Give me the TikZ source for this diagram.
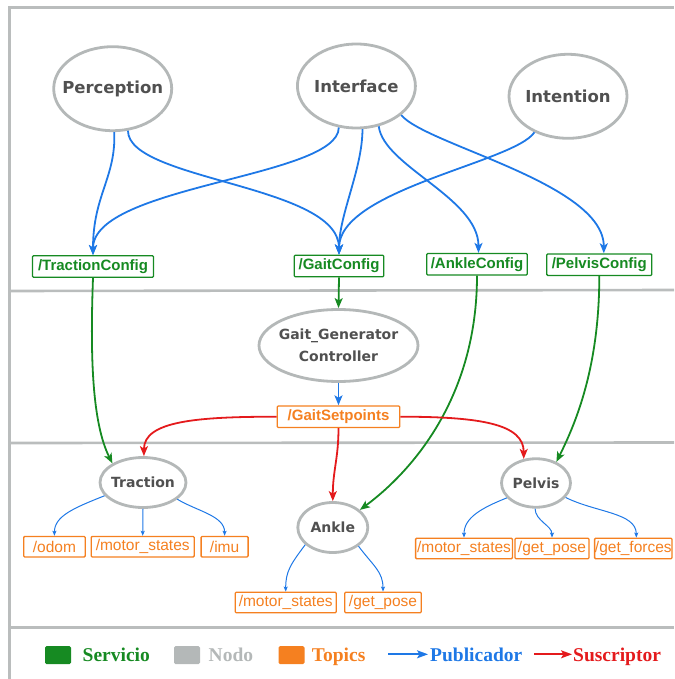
\documentclass[tikz,border=0pt]{standalone}
\usepackage{fontspec}
\usetikzlibrary{shapes.geometric,arrows.meta}
\newfontfamily\nodefont{DejaVu Sans}
\newfontfamily\topicfont{Liberation Sans}
\newfontfamily\legendfont{Liberation Serif}

\definecolor{cgreen}{HTML}{168A22}
\definecolor{cgray}{HTML}{B4B8B8}
\definecolor{cframe}{HTML}{BABDBD}
\definecolor{corange}{HTML}{F58020}
\definecolor{cblue}{HTML}{1E78E6}
\definecolor{cred}{HTML}{E41A1C}
\definecolor{ctext}{HTML}{505050}

\tikzset{
  rosnode/.style={ellipse, draw=cgray, line width=2.8pt, fill=white,
    inner xsep=-20pt, inner ysep=0pt, text=ctext, align=center},
  bignode/.style={rosnode, font=\nodefont\bfseries\fontsize{16.5}{19}\selectfont},
  smallnode/.style={rosnode, font=\nodefont\bfseries\fontsize{14}{18}\selectfont},
  service/.style={rectangle, draw=cgreen, line width=1.3pt, fill=white,
    rounded corners=1pt, inner sep=0pt, minimum height=21.5pt, text=cgreen,
    font=\topicfont\bfseries\fontsize{15}{18}\selectfont},
  topic/.style={rectangle, draw=corange, line width=1.3pt, fill=white,
    rounded corners=1pt, inner sep=0pt, minimum height=20.5pt, text=corange,
    font=\topicfont\fontsize{15.5}{18}\selectfont},
  maintopic/.style={topic, minimum height=21.5pt,
    font=\topicfont\bfseries\fontsize{15}{18}\selectfont},
  pub/.style={draw=cblue, line width=1.8pt,
    -{Stealth[length=10pt,width=8pt,inset=2.5pt]}},
  sub/.style={draw=cred, line width=1.8pt,
    -{Stealth[length=10pt,width=8pt,inset=2.5pt]}},
  srv/.style={draw=cgreen, line width=1.8pt,
    -{Stealth[length=10pt,width=8pt,inset=2.5pt]}},
  minipub/.style={draw=cblue, line width=1pt,
    -{Stealth[length=5pt,width=4pt,inset=1pt]}},
  legendarrow/.style={line width=1.8pt,
    -{Stealth[length=11pt,width=8pt,inset=2.5pt]}},
  frame/.style={draw=cframe, line width=2.6pt},
  legendbox/.style={rectangle, rounded corners=1.5pt, minimum width=26pt,
    minimum height=18pt, inner sep=0pt},
  legendtext/.style={anchor=base west, inner sep=0pt,
    font=\legendfont\bfseries\fontsize{19.5}{22}\selectfont},
}

\begin{document}
\begin{tikzpicture}[x=1pt, y=-1pt]
\useasboundingbox (0,0) rectangle (674,679);

% panel frame and separators
\draw[frame] (9.5,679) -- (9.5,7.5) -- (674,7.5);
\draw[frame] (9.5,291) -- (674,290);
\draw[frame] (9.5,443) -- (674,442.5);
\draw[frame] (9.5,627.5) -- (674,627.5);

% top-level nodes
\node[bignode, minimum width=118pt, minimum height=84pt] (perc) at (112.7,88.7) {Perception};
\node[bignode, minimum width=118pt, minimum height=84pt] (intf) at (356.4,86) {Interface};
\node[bignode, minimum width=118pt, minimum height=84pt] (intn) at (568,96.3) {Intention};

% configuration services
\node[service, minimum width=121pt] (tc) at (93,266.5) {/TractionConfig};
\node[service, minimum width=89.5pt] (gc) at (339,266) {/GaitConfig};
\node[service, minimum width=100.5pt] (ac) at (477,264.3) {/AnkleConfig};
\node[service, minimum width=105pt] (pc) at (599.3,264.7) {/PelvisConfig};

% gait generator and its setpoints
\node[smallnode, minimum width=159pt, minimum height=72pt] (gg) at (338.5,345.5)
  {Gait\_Generator\\[4pt]Controller};
\node[maintopic, minimum width=122.5pt] (gsp) at (338.5,416.7) {/GaitSetpoints};

% low-level controllers
\node[smallnode, minimum width=86pt, minimum height=50pt] (trac) at (143,482.5) {Traction};
\node[smallnode, minimum width=70pt, minimum height=50pt] (ank) at (332.8,527.5) {Ankle};
\node[smallnode, minimum width=69pt, minimum height=48.5pt] (pel) at (536,483) {Pelvis};

% published topics
\node[topic, minimum width=61.5pt] (odom) at (54.4,546.7) {/odom};
\node[topic, minimum width=103pt] (ms1) at (142.7,546.7) {/motor\_states};
\node[topic, minimum width=47pt] (imu) at (224.6,546.7) {/imu};
\node[topic, minimum width=101pt] (ms2) at (285.7,602.5) {/motor\_states};
\node[topic, minimum width=76.5pt] (gp2) at (383,602.5) {/get\_pose};
\node[topic, minimum width=96.8pt] (ms3) at (464,548.5) {/motor\_states};
\node[topic, minimum width=74pt] (gp3) at (552,548.5) {/get\_pose};
\node[topic, minimum width=77.4pt] (gf3) at (633.3,548.5) {/get\_forces};

% publishers to configuration services
\draw[pub] (perc.-88) .. controls +(2,45) and +(0,-60) .. (tc.north);
\draw[pub] (perc.-70) .. controls +(0,50) and +(0,-70) .. (gc.north);
\draw[pub] (intf.-113) .. controls +(0,50) and +(0,-70) .. (tc.north);
\draw[pub] (intf.-82) .. controls +(0,40) and +(0,-40) .. (gc.north);
\draw[pub] (intf.-61) .. controls +(5,40) and +(0,-55) .. ([xshift=1.5pt]ac.north);
\draw[pub] (intf.-33) .. controls +(25,30) and +(0,-70) .. ([xshift=4.5pt]pc.north);
\draw[pub] (intn.-133) .. controls +(-20,30) and +(0,-65) .. (gc.north);

% service calls into controllers
\draw[srv] (tc.south) .. controls +(-3,80) and +(-20,-40) .. (trac.148);
\draw[srv] (gc.south) -- (gg.north);
\draw[srv] (ac.south) .. controls +(0,120) and +(54,-40) .. (ank.33);
\draw[srv] (pc.south) .. controls +(0,90) and +(20,-40) .. (pel.46);

% gait generator output
\draw[pub] (gg.south) -- (gsp.north);

% subscribers of the setpoints
\draw[sub] (gsp.west) .. controls +(-80,0) and +(0,-35) .. (trac.88);
\draw[sub] (gsp.south) .. controls +(0,30) and +(0,-30) .. (ank.north);
\draw[sub] (gsp.east) .. controls +(80,0) and +(0,-35) .. (pel.117);

% controller topics
\draw[minipub] (trac.-161) .. controls +(-30,12) and +(0,-20) .. (odom.north);
\draw[minipub] (trac.south) -- (ms1.north);
\draw[minipub] (trac.-26) .. controls +(20,12) and +(0,-20) .. (imu.north);
\draw[minipub] (ank.-148) .. controls +(-15,20) and +(0,-20) .. (ms2.north);
\draw[minipub] (ank.-36) .. controls +(15,20) and +(0,-20) .. (gp2.north);
\draw[minipub] (pel.-153) .. controls +(-25,10) and +(0,-20) .. (ms3.north);
\draw[minipub] (pel.-92) .. controls +(0,12) and +(0,-12) .. (gp3.north);
\draw[minipub] (pel.-26) .. controls +(30,15) and +(0,-25) .. ([xshift=3pt]gf3.north);

% legend
\node[legendbox, fill=cgreen] (lgsrv) at (58,655) {};
\node[legendtext, text=cgreen] (lgsrvt) at (82.5,661.5) {Servicio};
\node[legendbox, fill=cgray] (lgnode) at (187,655) {};
\node[legendtext, text=cgray] (lgnodet) at (208.5,661.5) {Nodo};
\node[legendbox, fill=corange] (lgtop) at (291.5,655) {};
\node[legendtext, text=corange] (lgtopt) at (311.7,661.5) {Topics};
\coordinate (lgpubA) at (388,654.3);
\coordinate (lgpubB) at (428,654.3);
\draw[legendarrow, draw=cblue] (lgpubA) -- (lgpubB);
\node[legendtext, text=cblue] (lgpubt) at (430,661.5) {Publicador};
\coordinate (lgsubA) at (534.4,654.3);
\coordinate (lgsubB) at (572,654.3);
\draw[legendarrow, draw=cred] (lgsubA) -- (lgsubB);
\node[legendtext, text=cred] (lgsubt) at (573,661.5) {Suscriptor};
\end{tikzpicture}
\end{document}
